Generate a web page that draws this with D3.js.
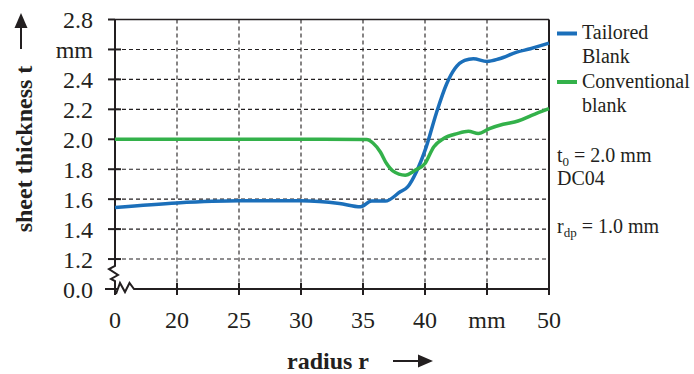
<!DOCTYPE html>
<html>
<head>
<meta charset="utf-8">
<script src="https://d3js.org/d3.v7.min.js"></script>
<style>
  body { margin: 0; background: #fff; }
  text { font-family: "Liberation Serif", "Times New Roman", serif; fill: #231f20; }
</style>
</head>
<body>
<svg width="694" height="374"></svg>
<script>
// radius r in mm (15 is drawn as "0" behind the axis break)
var tailoredR = [15, 20, 25, 30, 33.1, 34.8, 35.7, 36.8, 38.0, 38.6, 39.3, 40.1, 40.9, 41.75, 42.4, 43.2, 43.9, 45.0, 46.0, 47.4, 48.5, 50];
var tailoredT = [1.545, 1.575, 1.589, 1.589, 1.571, 1.549, 1.587, 1.587, 1.649, 1.682, 1.782, 1.949, 2.171, 2.371, 2.471, 2.527, 2.538, 2.52, 2.538, 2.582, 2.605, 2.642];

var convR = [15, 20, 25, 30, 35.3, 35.8, 36.4, 36.9, 37.4, 38.4, 39.2, 40.0, 40.7, 41.5, 42.6, 43.5, 44.3, 45.2, 46.3, 47.5, 48.6, 50];
var convT = [2.0, 2.0, 2.0, 2.0, 1.998, 1.975, 1.915, 1.838, 1.789, 1.76, 1.793, 1.838, 1.949, 2.005, 2.038, 2.053, 2.038, 2.071, 2.1, 2.122, 2.16, 2.205];

var xTicks = [15, 20, 25, 30, 35, 40, 45, 50];
var xTickLabels = ['0', '20', '25', '30', '35', '40', 'mm', '50'];
var yTicks = [1.0, 1.2, 1.4, 1.6, 1.8, 2.0, 2.2, 2.4, 2.6, 2.8];
var yTickLabels = ['0.0', '1.2', '1.4', '1.6', '1.8', '2.0', '2.2', '2.4', 'mm', '2.8'];

var colors = ['#1b6fba', '#33b14a'];

var svg = d3.select('svg');
var left = 115, right = 549, plotTop = 19.5, bottom = 289;

var x = d3.scaleLinear().domain([15, 50]).range([left, right]);
var y = d3.scaleLinear().domain([1.0, 2.8]).range([bottom, plotTop]);

// grid
svg.append('g')
  .selectAll('line')
  .data(yTicks.slice(1, -1))
  .enter()
  .append('line')
  .attr('x1', left).attr('x2', right)
  .attr('y1', function(d) { return y(d); })
  .attr('y2', function(d) { return y(d); })
  .attr('stroke', '#231f20').attr('stroke-width', 1.1).attr('stroke-dasharray', '4,3');

svg.append('g')
  .selectAll('line')
  .data(xTicks.slice(1, -1))
  .enter()
  .append('line')
  .attr('y1', plotTop).attr('y2', bottom)
  .attr('x1', function(d) { return x(d); })
  .attr('x2', function(d) { return x(d); })
  .attr('stroke', '#231f20').attr('stroke-width', 1.1).attr('stroke-dasharray', '4,3');

// frame
var frame = svg.append('g').attr('stroke', '#231f20').attr('fill', 'none');
frame.append('line').attr('x1', left).attr('x2', right).attr('y1', plotTop).attr('y2', plotTop).attr('stroke-width', 1.5);
frame.append('line').attr('x1', right).attr('x2', right).attr('y1', plotTop).attr('y2', bottom + 1).attr('stroke-width', 2);
// left axis with break
frame.append('path').attr('stroke-width', 2)
  .attr('d', 'M' + left + ',' + plotTop + 'V266 L109,269 L118,275 L111,279 L115,281 V295');
// bottom axis with break
frame.append('path').attr('stroke-width', 2)
  .attr('d', 'M116,294 L120,283 L125,292 L129.5,283 L134,' + bottom + ' H' + right);

// ticks
frame.selectAll('.yt')
  .data(yTicks.slice(0, -1))
  .enter()
  .append('line')
  .attr('x1', function(d, i) { return i === 0 ? 105 : 108; })
  .attr('x2', function(d, i) { return i === 0 ? 118 : 121; })
  .attr('y1', function(d) { return y(d); })
  .attr('y2', function(d) { return y(d); })
  .attr('stroke-width', 2);
frame.append('line').attr('x1', 108).attr('x2', left).attr('y1', plotTop).attr('y2', plotTop).attr('stroke-width', 2);

frame.selectAll('.xt')
  .data(xTicks.slice(1))
  .enter()
  .append('line')
  .attr('x1', function(d) { return x(d); })
  .attr('x2', function(d) { return x(d); })
  .attr('y1', bottom - 6).attr('y2', bottom + 6)
  .attr('stroke-width', 2);

// tick labels
svg.append('g')
  .selectAll('text')
  .data(yTicks)
  .enter()
  .append('text')
  .attr('x', 93)
  .attr('y', function(d) { return y(d) + 8.5; })
  .attr('text-anchor', 'end')
  .style('font-size', '24px')
  .text(function(d, i) { return yTickLabels[i]; });

svg.append('g')
  .selectAll('text')
  .data(xTicks)
  .enter()
  .append('text')
  .attr('x', function(d) { return x(d); })
  .attr('y', 328)
  .attr('text-anchor', 'middle')
  .style('font-size', '24px')
  .text(function(d, i) { return xTickLabels[i]; });

// axis titles
svg.append('text')
  .attr('transform', 'translate(31.5,149) rotate(-90)')
  .attr('text-anchor', 'middle')
  .style('font-size', '24px').style('font-weight', 'bold')
  .text('sheet thickness t');
svg.append('text')
  .attr('x', 287).attr('y', 369)
  .style('font-size', '24px').style('font-weight', 'bold')
  .text('radius r');

// arrows
svg.append('line').attr('x1', 21).attr('x2', 21).attr('y1', 49).attr('y2', 24)
  .attr('stroke', '#231f20').attr('stroke-width', 2);
svg.append('path').attr('d', 'M21,13 L14.5,28 L27.5,28 Z').attr('fill', '#231f20');
svg.append('line').attr('x1', 393).attr('x2', 420).attr('y1', 361).attr('y2', 361)
  .attr('stroke', '#231f20').attr('stroke-width', 2);
svg.append('path').attr('d', 'M433,361 L418,354.5 L418,367.5 Z').attr('fill', '#231f20');

// curves
var line = d3.line()
  .x(function(d) { return x(d[0]); })
  .y(function(d) { return y(d[1]); })
  .curve(d3.curveMonotoneX);

var series = [d3.zip(tailoredR, tailoredT), d3.zip(convR, convT)];
svg.append('g')
  .selectAll('path')
  .data(series)
  .enter()
  .append('path')
  .attr('d', line)
  .attr('fill', 'none')
  .attr('stroke', function(d, i) { return colors[i]; })
  .attr('stroke-width', 3.5);

// legend
var legend = svg.append('g');
legend.selectAll('line')
  .data(colors)
  .enter()
  .append('line')
  .attr('x1', 557).attr('x2', 577)
  .attr('y1', function(d, i) { return 33.5 + i * 48.5; })
  .attr('y2', function(d, i) { return 33.5 + i * 48.5; })
  .attr('stroke', function(d) { return d; })
  .attr('stroke-width', 4);

var legendLines = [['Tailored', 38.5], ['Blank', 62.5], ['Conventional', 88], ['blank', 111.5]];
legend.selectAll('text')
  .data(legendLines)
  .enter()
  .append('text')
  .attr('x', 582)
  .attr('y', function(d) { return d[1]; })
  .style('font-size', '20px')
  .text(function(d) { return d[0]; });

var t0 = svg.append('text').attr('x', 557).attr('y', 161.5).style('font-size', '20px');
t0.append('tspan').text('t');
t0.append('tspan').attr('dy', 4).style('font-size', '13px').text('0');
t0.append('tspan').attr('dy', -4).text(' = 2.0 mm');

svg.append('text').attr('x', 557).attr('y', 185).style('font-size', '20px').text('DC04');

var rdp = svg.append('text').attr('x', 557).attr('y', 233).style('font-size', '20px');
rdp.append('tspan').text('r');
rdp.append('tspan').attr('dy', 4).style('font-size', '13px').text('dp');
rdp.append('tspan').attr('dy', -4).text(' = 1.0 mm');
</script>
</body>
</html>
